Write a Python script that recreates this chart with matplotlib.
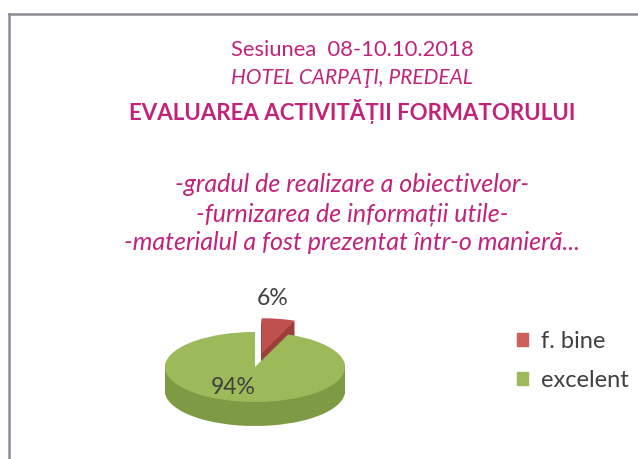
import matplotlib
matplotlib.use("Agg")
import matplotlib.pyplot as plt
from matplotlib.patches import Rectangle
from matplotlib.lines import Line2D

plt.rcParams['font.family'] = ['Lato', 'DejaVu Sans']

# data
labels = ['f. bine', 'excelent']
values = [6, 94]
top_colors = ['#C0504D', '#9CBA5A']
side_colors = ['#9C3E3B', '#7F9A45']
title_lines = ['Sesiunea  08-10.10.2018', 'HOTEL CARPAŢI, PREDEAL',
               'EVALUAREA ACTIVITĂȚII FORMATORULUI']
sub_lines = ['-gradul de realizare a obiectivelor-',
             '-furnizarea de informații utile-',
             '-materialul a fost prezentat într-o manieră...']

W, H = 638, 459
fig = plt.figure(figsize=(W / 100, H / 100), dpi=100)
fig.patch.set_facecolor('white')

def fx(x):
    return x / W

def fy(y):
    return 1 - y / H

# frame of the chart (cut by the picture edge)
fig.add_artist(Line2D([fx(9), 1.0], [fy(14), fy(14)], color='#8C8C96', lw=1.8))
fig.add_artist(Line2D([fx(9), fx(9)], [fy(14), 0.0], color='#8C8C96', lw=1.8))

pink = '#C2237A'
cx = fx(352)
fig.text(cx, fy(50), title_lines[0], ha='center', va='center', fontsize=15.8, color=pink)
fig.text(cx, fy(78), title_lines[1], ha='center', va='center', fontsize=15, color=pink, style='italic')
fig.text(cx, fy(112), title_lines[2], ha='center', va='center', fontsize=16, color=pink, weight='bold')
for i, s in enumerate(sub_lines):
    fig.text(cx, fy(185 + i * 29), s, ha='center', va='center', fontsize=18,
             color=pink, style='italic')

# pie axes: 1 unit = 90 px horizontally, 35 px vertically
ax = fig.add_axes([fx(140), fy(440), 230 / W, 150 / H])
explode = [0.4, 0]
thick = 24 / 35
n = 30
for k in range(n, 0, -1):
    off = thick * k / n
    ax.pie(values, colors=side_colors, startangle=90, counterclock=False,
           explode=explode, center=(0, -off), wedgeprops={'linewidth': 0})
wedges, texts, autotexts = ax.pie(values, colors=top_colors, startangle=90, counterclock=False,
                                  explode=explode, wedgeprops={'linewidth': 0},
                                  autopct='%.0f%%', pctdistance=0.6,
                                  textprops={'fontsize': 16.5, 'color': '#404040'})
autotexts[0].set_position((0.2, 1.97))
autotexts[1].set_position((-0.24, -0.6))
ax.set_aspect('auto')
ax.set_xlim(-115 / 90, 115 / 90)
ax.set_ylim(-73 / 35, 77 / 35)
ax.axis('off')

handles = [Rectangle((0, 0), 1, 1, color=c) for c in ['#CF5F5A', '#9CBA5A']]
fig.legend(handles, labels, loc='center left', bbox_to_anchor=(fx(517), fy(361)),
           frameon=False, fontsize=17, handlelength=0.45, handleheight=0.45,
           handletextpad=0.55, labelspacing=0.75, borderpad=0, borderaxespad=0,
           labelcolor='#404040')

fig.savefig('out.png', dpi=100)
